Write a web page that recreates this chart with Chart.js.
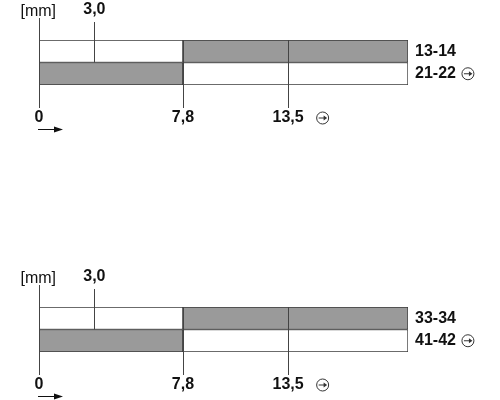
<!DOCTYPE html>
<html>
<head>
<meta charset="utf-8">
<script src="https://cdn.jsdelivr.net/npm/chart.js@4/dist/chart.umd.min.js"></script>
<style>
  html, body { margin: 0; padding: 0; background: #fff; }
  #wrap { position: relative; width: 500px; height: 400px; }
  .box { position: absolute; left: 0; width: 500px; height: 133px; }
</style>
</head>
<body>
<div id="wrap">
  <div class="box" style="top:0"><canvas id="c1"></canvas></div>
  <div class="box" style="top:267px"><canvas id="c2"></canvas></div>
</div>
<script>
// ---- data ----
const contactsTop = ['13-14', '21-22'];
const contactsBottom = ['33-34', '41-42'];
const positiveOpening = [false, true];          // rows marked with the positive-opening symbol
const openRanges = [[0, 7.8], [7.8, 20]];        // white (open) segment per row
const closedRanges = [[7.8, 20], [0, 7.8]];      // grey (closed) segment per row
const travelMin = 0;
const travelMax = 20;
const tickValues = [0, 7.8, 13.5];
const tickLabels = ['0', '7,8', '13,5'];
const tickPositive = [false, false, true];
const noteValue = 3.0;
const noteLabel = '3,0';
const unitLabel = '[mm]';

const FONT = '"Liberation Sans", Arial, sans-serif';

function drawSymbol(ctx, cx, cy) {
  ctx.save();
  ctx.strokeStyle = '#333';
  ctx.fillStyle = '#333';
  ctx.lineWidth = 1;
  ctx.beginPath(); ctx.arc(cx, cy, 6, 0, Math.PI * 2); ctx.stroke();
  ctx.beginPath(); ctx.moveTo(cx - 4, cy); ctx.lineTo(cx + 1.5, cy); ctx.stroke();
  ctx.beginPath();
  ctx.moveTo(cx + 4.5, cy); ctx.lineTo(cx + 1, cy - 2.4); ctx.lineTo(cx + 1, cy + 2.4);
  ctx.closePath(); ctx.fill();
  ctx.restore();
}

const diagramPlugin = {
  id: 'diagram',
  afterDatasetsDraw(chart) {
    const ctx = chart.ctx;
    const xs = chart.scales.x, ys = chart.scales.y;
    const a = chart.chartArea;
    const mid = (a.top + a.bottom) / 2;
    ctx.save();
    ctx.strokeStyle = '#444';
    ctx.lineWidth = 1;
    const vline = (v, y1, y2) => {
      const x = Math.round(xs.getPixelForValue(v)) + 0.5;
      ctx.beginPath(); ctx.moveTo(x, y1); ctx.lineTo(x, y2); ctx.stroke();
    };
    vline(0, a.top - 22, a.bottom + 23);
    vline(noteValue, a.top - 18, mid);
    tickValues.slice(1).forEach(v => vline(v, a.top, a.bottom + 23));

    ctx.fillStyle = '#111';
    ctx.textBaseline = 'middle';
    ctx.font = '16px ' + FONT;
    ctx.textAlign = 'right';
    ctx.fillText(unitLabel, xs.getPixelForValue(0) + 17, a.top - 28);
    ctx.font = 'bold 16px ' + FONT;
    ctx.textAlign = 'center';
    ctx.fillText(noteLabel, xs.getPixelForValue(noteValue), a.top - 30);
    tickValues.forEach((v, i) => {
      const x = xs.getPixelForValue(v);
      ctx.textAlign = 'center';
      ctx.font = 'bold 16px ' + FONT;
      ctx.fillText(tickLabels[i], x, a.bottom + 33);
      if (tickPositive[i]) {
        const w = ctx.measureText(tickLabels[i]).width;
        drawSymbol(ctx, x + w / 2 + 19, a.bottom + 33);
      }
    });
    chart.data.labels.forEach((lab, i) => {
      const y = ys.getPixelForValue(i);
      ctx.font = 'bold 16px ' + FONT;
      ctx.textAlign = 'left';
      ctx.fillText(lab, a.right + 7, y);
      if (positiveOpening[i]) {
        const w = ctx.measureText(lab).width;
        drawSymbol(ctx, a.right + 7 + w + 12, y);
      }
    });
    const x0 = xs.getPixelForValue(0);
    const ay = Math.round(a.bottom + 44) + 0.5;
    ctx.strokeStyle = '#111';
    ctx.beginPath(); ctx.moveTo(x0 - 1, ay); ctx.lineTo(x0 + 18, ay); ctx.stroke();
    ctx.fillStyle = '#111';
    ctx.beginPath();
    ctx.moveTo(x0 + 24, ay);
    ctx.lineTo(x0 + 15, ay - 3);
    ctx.lineTo(x0 + 15, ay + 3);
    ctx.closePath(); ctx.fill();
    ctx.restore();
  }
};

function makeChart(id, labels) {
  return new Chart(document.getElementById(id), {
    type: 'bar',
    data: {
      labels: labels,
      datasets: [
        { label: 'open', data: openRanges, backgroundColor: '#ffffff' },
        { label: 'closed', data: closedRanges, backgroundColor: '#9a9a9a' }
      ]
    },
    options: {
      indexAxis: 'y',
      responsive: true,
      maintainAspectRatio: false,
      animation: false,
      layout: { padding: { left: 39, right: 92, top: 40, bottom: 48 } },
      datasets: {
        bar: {
          grouped: false,
          barPercentage: 1,
          categoryPercentage: 1,
          borderWidth: 1,
          borderColor: '#3a3a3a',
          borderSkipped: false
        }
      },
      scales: {
        x: { type: 'linear', min: travelMin, max: travelMax, display: false },
        y: { display: false }
      },
      plugins: { legend: { display: false }, tooltip: { enabled: false } }
    },
    plugins: [diagramPlugin]
  });
}

makeChart('c1', contactsTop);
makeChart('c2', contactsBottom);
</script>
</body>
</html>
